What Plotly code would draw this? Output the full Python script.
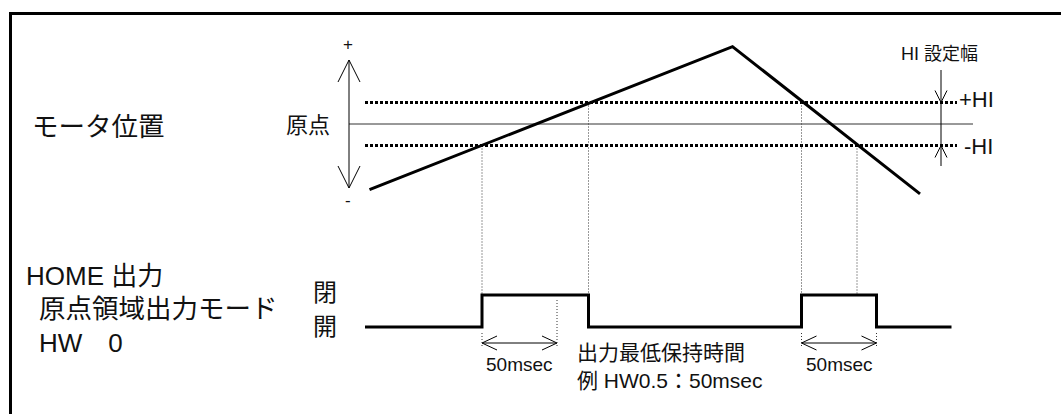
import plotly.graph_objects as go

# motor position: time in msec, position in units of the HI width
motor_t = [3, 245, 370]
motor_pos = [-3.05, 3.6, -3.25]
hi_width = 1.0

# HOME output (1 = 閉, 0 = 開)
home_t = [0, 78, 149, 291, 341, 391]
home_state = [0, 1, 0, 1, 0, 0]

# where the position passes +HI / -HI
cross_t = [78, 149, 291, 328]
cross_pos = [-1, 1, 1, -1]

# minimum hold time arrows
hold_ms = 50
hold_start = [78, 291]

W, H = 1061, 414
X0, XS = 365, 1.5      # pixel of t=0, pixels per msec
P0, PS = 124, 21.5     # pixel of the origin, pixels per HI unit
L0, LS = 327, 32       # pixel of the 開 level, pixels per level step

FONT = "Liberation Sans, Arial, Noto Sans CJK JP, sans-serif"
INK = "#000000"

fig = go.Figure()


def line(x, y, width=1, dash=None, yaxis="y", color=INK):
    fig.add_trace(go.Scatter(x=x, y=y, mode="lines", yaxis=yaxis,
                             line=dict(color=color, width=width, dash=dash),
                             hoverinfo="skip", showlegend=False))


def vhead(t, v, ux, uy, length, half, ys=PS, yaxis="y"):
    # open "V" arrow head, tip at (t, v), pointing along (ux, uy) in pixels
    ox = [-ux * length - uy * half, 0, -ux * length + uy * half]
    oy = [-uy * length + ux * half, 0, -uy * length - ux * half]
    line([t + a / XS for a in ox], [v + b / ys for b in oy], yaxis=yaxis)


def t_of(px):
    return (px - X0) / XS


def pos_of(py):
    return (P0 - py) / PS


def lvl_of(py):
    return (L0 - py) / LS


def lvl_on_pos(level):
    return pos_of(L0 - LS * level)


# position axis with arrows
ax_t = t_of(349)
line([t_of(349), t_of(973)], [0, 0], width=1, color="#333333")
line([ax_t, ax_t], [pos_of(60), pos_of(188)])
vhead(ax_t, pos_of(60), 0, 1, 22, 11)
vhead(ax_t, pos_of(188), 0, -1, 22, 11)

# +HI / -HI levels
for lv in (hi_width, -hi_width):
    line([0, t_of(957)], [lv, lv], width=3, dash="3px,2px")

# HI width marker
hx = t_of(941)
line([hx, hx], [pos_of(70), pos_of(166)])
vhead(hx, hi_width, 0, -1, 12, 6)
vhead(hx, -hi_width, 0, 1, 12, 6)

# thin guides from the crossings down to the output
for t, p in zip(cross_t, cross_pos):
    line([t, t], [p, lvl_on_pos(1)], width=1, dash="1px,2px", color="#333333")

# motor position
line(motor_t, motor_pos, width=3)

# HOME output
fig.add_trace(go.Scatter(x=home_t, y=home_state, mode="lines", yaxis="y2",
                         line=dict(color=INK, width=3, shape="hv"),
                         hoverinfo="skip", showlegend=False))

ann = []
arrow_lvl = lvl_of(343)
for s in hold_start:
    e = s + hold_ms
    line([s, e], [arrow_lvl, arrow_lvl], yaxis="y2")
    vhead(s, arrow_lvl, -1, 0, 15, 7, LS, "y2")
    vhead(e, arrow_lvl, 1, 0, 15, 7, LS, "y2")
    for t in (s, e):
        top = lvl_of(333)
        for i in range(len(home_t) - 1):
            if home_t[i] < t < home_t[i + 1] and home_state[i] == 1:
                top = lvl_of(300)
        line([t, t], [top, lvl_of(348)], width=1, dash="1px,2px",
             yaxis="y2", color="#333333")
    ann.append(dict(x=s + hold_ms / 2, y=lvl_of(364), xref="x", yref="y2",
                    text="50msec", font=dict(size=19)))


def ptext(text, x, y, size, anchor="left"):
    ann.append(dict(x=x / W, y=1 - y / H, xref="paper", yref="paper",
                    text=text, xanchor=anchor, font=dict(size=size)))


ptext("+", 348, 44, 17, "center")
ptext("-", 348, 201, 17, "center")
ptext("モータ位置", 30, 127, 26.5)
ptext("原点", 332, 125, 22, "right")
ptext("HI 設定幅", 899, 54, 18)
ptext("+HI", 957, 100, 22)
ptext("-HI", 962, 146, 22)
ptext("HOME 出力", 24, 276, 26)
ptext("原点領域出力モード", 37, 309, 26.5)
ptext("HW\u30000", 37, 343, 26)
ptext("閉", 325, 292, 24, "center")
ptext("開", 325, 326, 24, "center")
ptext("出力最低保持時間", 575, 352, 21)
ptext("例 HW0.5：50msec", 575, 380, 21)

fig.update_layout(
    width=W, height=H,
    margin=dict(l=0, r=0, t=0, b=0),
    paper_bgcolor="white", plot_bgcolor="white",
    font=dict(family=FONT, color="#111111"),
    showlegend=False,
    xaxis=dict(range=[t_of(0), t_of(W)], visible=False, fixedrange=True),
    yaxis=dict(range=[pos_of(H), pos_of(0)], visible=False, fixedrange=True),
    yaxis2=dict(range=[lvl_of(H), lvl_of(0)], overlaying="y", visible=False,
                fixedrange=True),
    annotations=[dict(a, showarrow=False, yanchor="middle") for a in ann],
    shapes=[dict(type="rect", xref="paper", yref="paper",
                 x0=10.5 / W, x1=1.05, y0=-0.05, y1=1 - 13.5 / H,
                 line=dict(color=INK, width=3))],
)

fig.write_html("out.html", config={"displayModeBar": False},
               post_script="document.body.style.margin='0';"
                           "document.body.style.overflow='hidden';")
